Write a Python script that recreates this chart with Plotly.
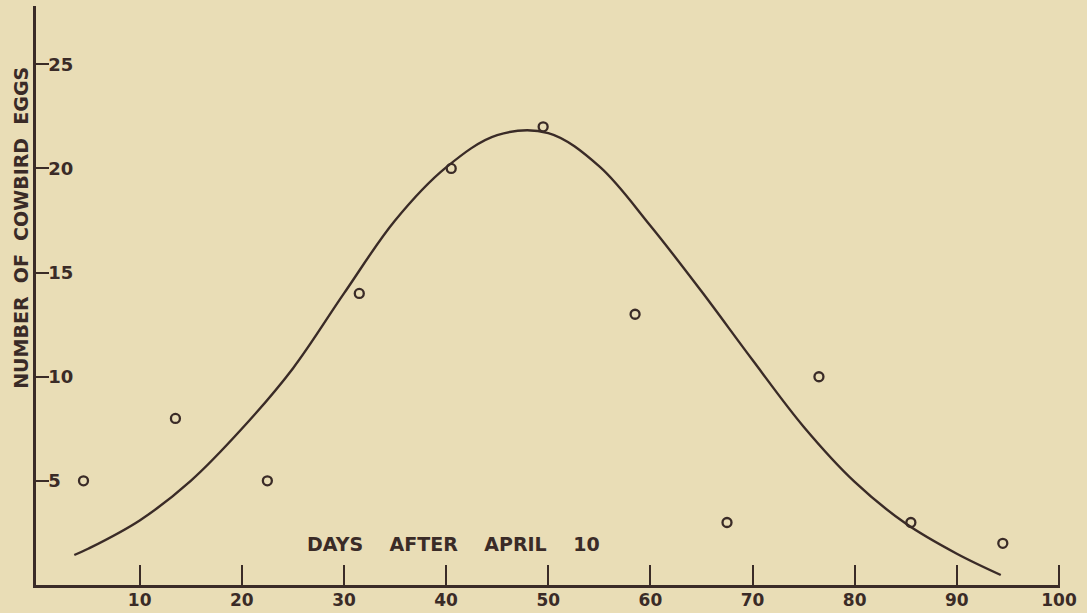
import plotly.graph_objects as go

# Observed cowbird egg counts, grouped in 9-day periods
days = [4.5, 13.5, 22.5, 31.5, 40.5, 49.5, 58.5, 67.5, 76.5, 85.5, 94.5]
eggs = [5, 8, 5, 14, 20, 22, 13, 3, 10, 3, 2]

# Fitted curve, sampled along its length
curve_days = [3.6, 5, 10, 15, 20, 25, 30, 35, 40, 45, 50, 55, 60, 65,
              70, 75, 80, 85, 90, 94.3]
curve_eggs = [1.44, 1.75, 3.1, 5.0, 7.5, 10.4, 14.0, 17.5, 20.05, 21.6, 21.7, 20.1,
              17.25, 14.1, 10.8, 7.6, 4.95, 2.95, 1.5, 0.48]

x_ticks = [10, 20, 30, 40, 50, 60, 70, 80, 90, 100]
y_ticks = [5, 10, 15, 20, 25]

INK = "#3a2b27"
PAPER = "#e9ddb6"
FONT = "DejaVu Sans"

fig = go.Figure()
fig.add_trace(go.Scatter(
    x=curve_days, y=curve_eggs, mode="lines",
    line=dict(color=INK, width=2.4, shape="spline", smoothing=1.0),
    hoverinfo="skip", showlegend=False,
))
fig.add_trace(go.Scatter(
    x=days, y=eggs, mode="markers",
    marker=dict(symbol="circle-open", size=9, color=INK, line=dict(width=2.3, color=INK)),
    showlegend=False,
))

tick_font = dict(size=17, family=FONT, color=INK, weight="bold")

fig.update_layout(
    width=1087, height=613,
    margin=dict(l=36, r=27, t=6, b=28),
    paper_bgcolor=PAPER, plot_bgcolor=PAPER,
    font=dict(family=FONT, color=INK),
    xaxis=dict(
        range=[-0.15, 100.1], showgrid=False, zeroline=False, automargin=False,
        showline=True, linecolor=INK, linewidth=2.5,
        ticks="inside", ticklen=20, tickwidth=2, tickcolor=INK,
        tickvals=x_ticks, ticktext=[str(v) for v in x_ticks],
        tickfont=tick_font, ticklabelstandoff=-2,
    ),
    yaxis=dict(
        range=[0, 27.8], showgrid=False, zeroline=False, automargin=False,
        showline=True, linecolor=INK, linewidth=2.5,
        ticks="inside", ticklen=13, tickwidth=2, tickcolor=INK,
        tickvals=y_ticks, ticktext=[str(v) for v in y_ticks],
        ticklabelposition="inside", tickfont=dict(tick_font, size=18),
    ),
    annotations=[
        dict(text="NUMBER  OF  COWBIRD  EGGS", textangle=-90,
             xref="paper", yref="paper", x=-0.0146, y=0.617,
             xanchor="center", yanchor="middle", showarrow=False,
             font=dict(size=19, family=FONT, color=INK, weight="bold")),
        dict(text="DAYS    AFTER    APRIL    10",
             xref="x", yref="y", x=40.7, y=1.95,
             xanchor="center", yanchor="middle", showarrow=False,
             font=dict(size=19, family=FONT, color=INK, weight="bold")),
    ],
)

fig.write_html("out.html")
